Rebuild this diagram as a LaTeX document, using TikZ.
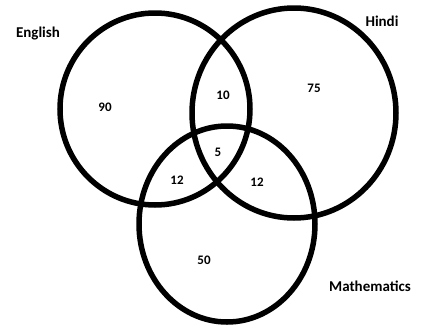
\documentclass[tikz,border=0pt]{standalone}
\usepackage{fontspec}
\setmainfont{Carlito}
\usepackage{tikz}
\usetikzlibrary{positioning}

\begin{document}
\begin{tikzpicture}[x=1pt, y=-1pt,
  set/.style={draw, line width=5.5pt},
  lbl/.style={font=\bfseries\fontsize{15}{17}\selectfont, inner sep=0pt},
  num/.style={font=\bfseries\fontsize{13}{15}\selectfont, inner sep=0pt}]
\useasboundingbox (0,0) rectangle (421,325);
% the three sets
\draw[set] (155,109) ellipse [x radius=95, y radius=96];
\draw[set] (294,113) ellipse [x radius=102, y radius=105];
\draw[set] (227,224) ellipse [x radius=88, y radius=98];
% set names
\node[lbl] (eng) at (38,34) {English};
\node[lbl] (hin) at (382,21) {Hindi};
\node[lbl] (mat) at (370,286) {Mathematics};
% region counts
\node[num] (e) at (105,107) {90};
\node[num] (eh) at (223,95) {10};
\node[num] (h) at (314,88) {75};
\node[num] (ehm) at (218,152) {5};
\node[num] (em) at (177,180) {12};
\node[num] (hm) at (257,182) {12};
\node[num] (m) at (204,260) {50};
\end{tikzpicture}
\end{document}
